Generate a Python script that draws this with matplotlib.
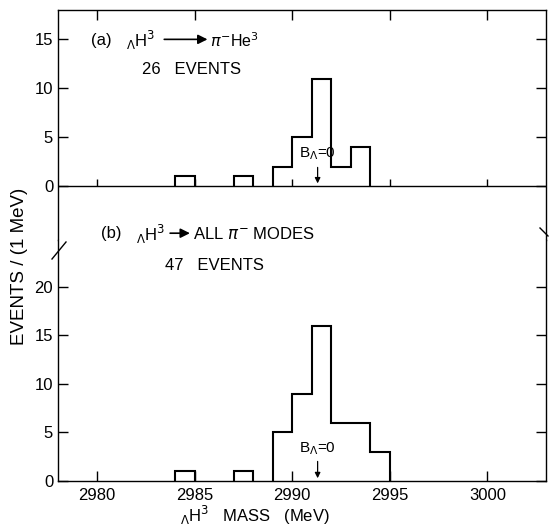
import numpy as np
import matplotlib
matplotlib.use('Agg')
import matplotlib.pyplot as plt
from matplotlib.lines import Line2D

plt.rcParams['font.family'] = ['Liberation Sans', 'DejaVu Sans']
plt.rcParams['mathtext.fontset'] = 'dejavusans'

# Dane histogramów (przedziały 1 MeV)
bin_edges = np.arange(2984, 2996)
counts_a = [1, 0, 0, 1, 0, 2, 5, 11, 2, 4, 0]   # (a) pi- He3, 26 zdarzeń
counts_b = [1, 0, 0, 1, 0, 5, 9, 16, 6, 6, 3]   # (b) wszystkie mody pi-, 47 zdarzeń
x_ticks = [2980, 2985, 2990, 2995, 3000]
x_ticklabels = ['2980', '2985', '2990', '2995', '3000']
y_ticks_a = [0, 5, 10, 15]
y_ticks_b = [0, 5, 10, 15, 20]
b_zero = 2991.3   # B_Lambda = 0

W, H = 550, 527
fig = plt.figure(figsize=(5.5, 5.27), dpi=100)

def fx(px):
    return px / W

def fy(py):
    return (H - py) / H

def draw_hist(ax, counts, edges):
    # rysuje każdy ciągły blok niezerowych przedziałów osobno (bez linii na zerze)
    counts = list(counts)
    i = 0
    while i < len(counts):
        if counts[i] == 0:
            i += 1
            continue
        j = i
        while j < len(counts) and counts[j] != 0:
            j += 1
        ax.stairs(counts[i:j], edges[i:j + 1], baseline=0, color='k', lw=1.5)
        i = j

ax_a = fig.add_axes([fx(58), fy(240), fx(546) - fx(58), fy(10) - fy(240)])
ax_b = fig.add_axes([fx(58), fy(481), fx(546) - fx(58), fy(240) - fy(481)])

for ax in (ax_a, ax_b):
    ax.set_xlim(2978, 3003)
    ax.set_xticks(x_ticks)
    for s in ax.spines.values():
        s.set_linewidth(1.0)
    ax.tick_params(direction='in', length=7, width=1.0, labelsize=12,
                   left=True, right=True)

# --- panel (a) ---
ax_a.set_ylim(-5.5, 18)
ax_a.set_yticks(y_ticks_a)
ax_a.spines['bottom'].set_visible(False)
ax_a.tick_params(axis='x', bottom=False, top=True, labelbottom=False)
ax_a.axhline(0, color='k', lw=1.0)
ax_a.vlines(x_ticks, 0, 0.75, color='k', lw=1.0)
draw_hist(ax_a, counts_a, bin_edges)

ax_a.text(2979.7, 14.9, '(a)', fontsize=12, va='center')
ax_a.text(2981.5, 14.9, r'$_{\Lambda}$H$^3$', fontsize=12, va='center')
ax_a.annotate('', xy=(2985.8, 15.0), xytext=(2983.3, 15.0),
              arrowprops=dict(arrowstyle='-|>', color='k', lw=1.2, mutation_scale=14))
ax_a.text(2985.8, 14.9, r'$\pi^{-}$He$^3$', fontsize=11.5, va='center')
ax_a.text(2982.3, 11.9, '26   EVENTS', fontsize=12, va='center')
ax_a.text(b_zero, 3.3, r'B$_{\Lambda}$=0', fontsize=11, ha='center', va='center')
ax_a.annotate('', xy=(b_zero, 0), xytext=(b_zero, 2.2),
              arrowprops=dict(arrowstyle='-|>', color='k', lw=0.9, mutation_scale=8))

# --- panel (b) ---
ax_b.set_ylim(0, 24.8)
ax_b.set_yticks(y_ticks_b)
ax_b.spines['top'].set_visible(False)
ax_b.set_xticklabels(x_ticklabels)
ax_b.tick_params(axis='x', bottom=True, top=False, pad=5)
draw_hist(ax_b, counts_b, bin_edges)

ax_b.text(2980.2, 25.5, '(b)', fontsize=12, va='center')
ax_b.text(2982.0, 25.4, r'$_{\Lambda}$H$^3$', fontsize=12, va='center')
ax_b.annotate('', xy=(2984.9, 25.5), xytext=(2983.6, 25.5),
              arrowprops=dict(arrowstyle='-|>', color='k', lw=1.2, mutation_scale=14),
              annotation_clip=False)
ax_b.text(2984.9, 25.4, r'ALL $\pi^{-}$ MODES', fontsize=12, va='center')
ax_b.text(2983.5, 22.2, '47   EVENTS', fontsize=12, va='center')
ax_b.text(b_zero, 3.3, r'B$_{\Lambda}$=0', fontsize=11, ha='center', va='center')
ax_b.annotate('', xy=(b_zero, 0), xytext=(b_zero, 2.3),
              arrowprops=dict(arrowstyle='-|>', color='k', lw=0.9, mutation_scale=8))

# znaczniki przerwania osi
fig.add_artist(Line2D([fx(52), fx(66)], [fy(259), fy(242)], color='k', lw=1.0))
fig.add_artist(Line2D([fx(540), fx(548)], [fy(228), fy(236)], color='k', lw=1.0))

fig.text(fx(20), fy(266), 'EVENTS / (1 MeV)', rotation=90, fontsize=13.5,
         ha='center', va='center')
fig.text(fx(255), fy(522), r'$_{\Lambda}$H$^3$   MASS   (MeV)', fontsize=12,
         ha='center', va='baseline')

fig.savefig('out.png', dpi=100)
